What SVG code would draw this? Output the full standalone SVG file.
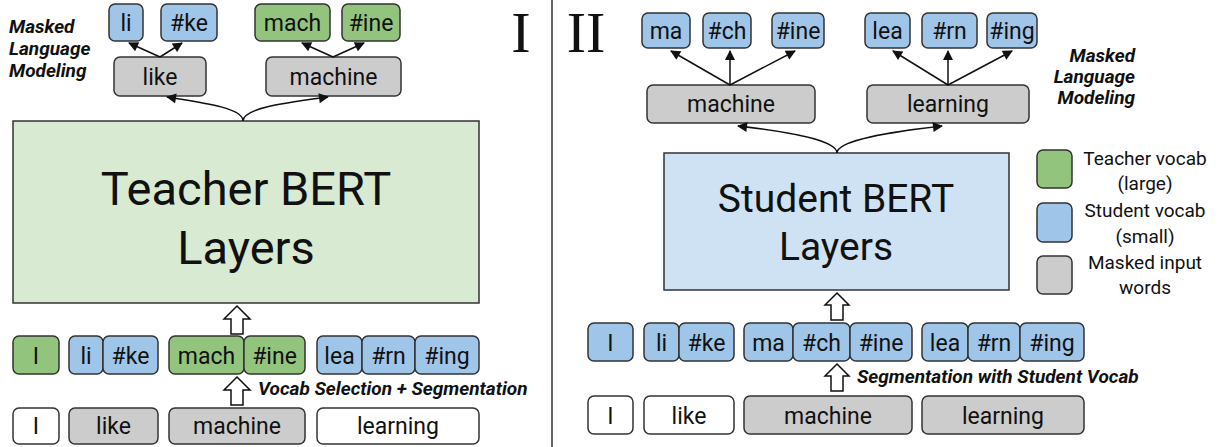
<svg xmlns="http://www.w3.org/2000/svg" width="1222" height="447" viewBox="0 0 1222 447">
<style>
.b{stroke:#333;stroke-width:1.5}
.g{fill:#93c47d}.u{fill:#9fc5e8}.y{fill:#cccccc}.w{fill:#fff}
.t{font-family:Roboto,"Liberation Sans",sans-serif;font-size:23px;fill:#111;text-anchor:middle}
.big{font-family:Roboto,"Liberation Sans",sans-serif;fill:#111;text-anchor:middle}
.lab{font-family:Roboto,"Liberation Sans",sans-serif;font-size:19px;font-weight:bold;font-style:italic;fill:#111}
.leg{font-family:Roboto,"Liberation Sans",sans-serif;font-size:19px;fill:#111;text-anchor:middle}
.rom{font-family:"Liberation Serif",serif;font-size:58px;fill:#111;text-anchor:middle}
.c{fill:none;stroke:#111;stroke-width:1.5;marker-end:url(#ah)}
.blk{fill:#fff;stroke:#111;stroke-width:1.5;stroke-linejoin:miter}
</style>
<defs>
<marker id="ah" viewBox="0 0 10 10" refX="9" refY="5" markerWidth="12" markerHeight="10" markerUnits="userSpaceOnUse" orient="auto"><path d="M0,0 L10,5 L0,10 z" fill="#111"/></marker>
</defs>
<rect width="1222" height="447" fill="#fff"/>
<line x1="552" y1="0" x2="552" y2="447" stroke="#333" stroke-width="1.5"/>
<text class="rom" x="521" y="52">I</text>
<text class="rom" x="586" y="52">II</text>

<!-- Left panel -->
<g id="mlm-left"><text class="lab" x="9" y="33">Masked</text><text class="lab" x="9" y="55">Language</text><text class="lab" x="9" y="77">Modeling</text></g>
<g id="t-li"><rect class="b u" x="109" y="4" width="34" height="37" rx="6"/><text class="t" x="126" y="31">li</text></g>
<g id="t-ke"><rect class="b u" x="161" y="4" width="56" height="37" rx="6"/><text class="t" x="189" y="31">#ke</text></g>
<g id="t-mach"><rect class="b g" x="255" y="4" width="75" height="37" rx="6"/><text class="t" x="292.5" y="31">mach</text></g>
<g id="t-ine"><rect class="b g" x="342" y="4" width="58" height="37" rx="6"/><text class="t" x="371" y="31">#ine</text></g>
<g id="m-like"><rect class="b y" x="114" y="57" width="92" height="39" rx="6"/><text class="t" x="160" y="85">like</text></g>
<g id="m-machine"><rect class="b y" x="266" y="57" width="135" height="39" rx="6"/><text class="t" x="333.5" y="85">machine</text></g>
<g id="teacher"><rect x="13" y="121" width="466" height="182" fill="#d9ead3" stroke="#333" stroke-width="1.5"/><text class="big" x="246" y="205" font-size="47">Teacher BERT</text><text class="big" x="246" y="264" font-size="47">Layers</text></g>

<g id="left-row1">
<rect class="b g" x="13" y="336" width="46" height="38" rx="6"/><text class="t" x="36" y="364">I</text>
<rect class="b u" x="69" y="336" width="34" height="38" rx="6"/><text class="t" x="86" y="364">li</text>
<rect class="b u" x="103" y="336" width="55" height="38" rx="6"/><text class="t" x="130.5" y="364">#ke</text>
<rect class="b g" x="169" y="336" width="75" height="38" rx="6"/><text class="t" x="206.5" y="364">mach</text>
<rect class="b g" x="244" y="336" width="61" height="38" rx="6"/><text class="t" x="274.5" y="364">#ine</text>
<rect class="b u" x="317" y="336" width="45" height="38" rx="6"/><text class="t" x="339.5" y="364">lea</text>
<rect class="b u" x="362" y="336" width="53" height="38" rx="6"/><text class="t" x="388.5" y="364">#rn</text>
<rect class="b u" x="415" y="336" width="64" height="38" rx="6"/><text class="t" x="447" y="364">#ing</text>
</g>
<g id="left-row0">
<rect class="b w" x="13" y="408" width="46" height="36" rx="6"/><text class="t" x="36" y="434">I</text>
<rect class="b y" x="69" y="408" width="89" height="36" rx="6"/><text class="t" x="113.5" y="434">like</text>
<rect class="b y" x="169" y="408" width="136" height="36" rx="6"/><text class="t" x="237" y="434">machine</text>
<rect class="b w" x="317" y="408" width="162" height="36" rx="6"/><text class="t" x="398" y="434">learning</text>
</g>
<text class="lab" x="258" y="395">Vocab Selection + Segmentation</text>

<!-- Right panel -->
<g id="mlm-right"><text class="lab" x="1135" y="62" text-anchor="end">Masked</text><text class="lab" x="1135" y="83" text-anchor="end">Language</text><text class="lab" x="1135" y="104" text-anchor="end">Modeling</text></g>
<g id="s-ma"><rect class="b u" x="642" y="13" width="48" height="35" rx="6"/><text class="t" x="666" y="39">ma</text></g>
<g id="s-ch"><rect class="b u" x="703" y="13" width="48" height="35" rx="6"/><text class="t" x="727" y="39">#ch</text></g>
<g id="s-ine"><rect class="b u" x="772" y="13" width="52" height="35" rx="6"/><text class="t" x="798" y="39">#ine</text></g>
<g id="s-lea"><rect class="b u" x="865" y="13" width="45" height="35" rx="6"/><text class="t" x="887.5" y="39">lea</text></g>
<g id="s-rn"><rect class="b u" x="922" y="13" width="55" height="35" rx="6"/><text class="t" x="949.5" y="39">#rn</text></g>
<g id="s-ing"><rect class="b u" x="987" y="13" width="50" height="35" rx="6"/><text class="t" x="1012" y="39">#ing</text></g>
<g id="s-machine"><rect class="b y" x="647" y="85" width="168" height="38" rx="6"/><text class="t" x="731" y="112">machine</text></g>
<g id="s-learning"><rect class="b y" x="867" y="85" width="162" height="38" rx="6"/><text class="t" x="948" y="112">learning</text></g>
<g id="student"><rect x="664" y="153" width="345" height="137" fill="#cfe2f3" stroke="#333" stroke-width="1.5"/><text class="big" x="836" y="212" font-size="39">Student BERT</text><text class="big" x="836" y="260" font-size="39">Layers</text></g>

<g id="right-row1">
<rect class="b u" x="588" y="323" width="45" height="38" rx="6"/><text class="t" x="610.5" y="351">I</text>
<rect class="b u" x="644" y="323" width="35" height="38" rx="6"/><text class="t" x="661.5" y="351">li</text>
<rect class="b u" x="679" y="323" width="55" height="38" rx="6"/><text class="t" x="706.5" y="351">#ke</text>
<rect class="b u" x="744" y="323" width="49" height="38" rx="6"/><text class="t" x="768.5" y="351">ma</text>
<rect class="b u" x="793" y="323" width="57" height="38" rx="6"/><text class="t" x="821.5" y="351">#ch</text>
<rect class="b u" x="850" y="323" width="62" height="38" rx="6"/><text class="t" x="881" y="351">#ine</text>
<rect class="b u" x="922" y="323" width="46" height="38" rx="6"/><text class="t" x="945" y="351">lea</text>
<rect class="b u" x="968" y="323" width="52" height="38" rx="6"/><text class="t" x="994" y="351">#rn</text>
<rect class="b u" x="1020" y="323" width="64" height="38" rx="6"/><text class="t" x="1052" y="351">#ing</text>
</g>
<g id="right-row0">
<rect class="b w" x="588" y="396" width="45" height="38" rx="6"/><text class="t" x="610.5" y="424">I</text>
<rect class="b w" x="644" y="396" width="90" height="38" rx="6"/><text class="t" x="689" y="424">like</text>
<rect class="b y" x="744" y="396" width="168" height="38" rx="6"/><text class="t" x="828" y="424">machine</text>
<rect class="b y" x="922" y="396" width="162" height="38" rx="6"/><text class="t" x="1003" y="424">learning</text>
</g>
<text class="lab" x="857" y="383">Segmentation with Student Vocab</text>

<!-- Legend -->
<g id="legend">
<rect class="b g" x="1037" y="150" width="35" height="38" rx="6"/><text class="leg" x="1145" y="165">Teacher vocab</text><text class="leg" x="1145" y="190">(large)</text>
<rect class="b u" x="1037" y="203" width="35" height="39" rx="6"/><text class="leg" x="1145" y="217">Student vocab</text><text class="leg" x="1145" y="243">(small)</text>
<rect class="b y" x="1037" y="256" width="35" height="38" rx="6"/><text class="leg" x="1145" y="269">Masked input</text><text class="leg" x="1145" y="294">words</text>
</g>

<g id="connectors">
<path class="c" d="M160,57 L129,43"/>
<path class="c" d="M160,57 L182,43"/>
<path class="c" d="M333,57 L302,43"/>
<path class="c" d="M333,57 L364,43"/>
<path class="c" d="M243,121 C243,108 205,103 167,97"/>
<path class="c" d="M243,121 C243,108 285,103 328,97"/>
<path class="c" d="M730,85 L671,51"/>
<path class="c" d="M730,85 L730,51"/>
<path class="c" d="M730,85 L795,51"/>
<path class="c" d="M948,85 L893,51"/>
<path class="c" d="M948,85 L948,51"/>
<path class="c" d="M948,85 L1012,51"/>
<path class="c" d="M837,153 C837,140 790,132 738,126"/>
<path class="c" d="M837,153 C837,140 890,132 942,126"/>
<path class="blk" d="M237,306 L250,319 L243,319 L243,334 L231,334 L231,319 L224,319 Z"/>
<path class="blk" d="M237,377 L250,390 L243,390 L243,405 L231,405 L231,390 L224,390 Z"/>
<path class="blk" d="M837,293 L849,305 L843,305 L843,320 L831,320 L831,305 L825,305 Z"/>
<path class="blk" d="M837,364 L849,376 L843,376 L843,391 L831,391 L831,376 L825,376 Z"/>
</g>
</svg>
